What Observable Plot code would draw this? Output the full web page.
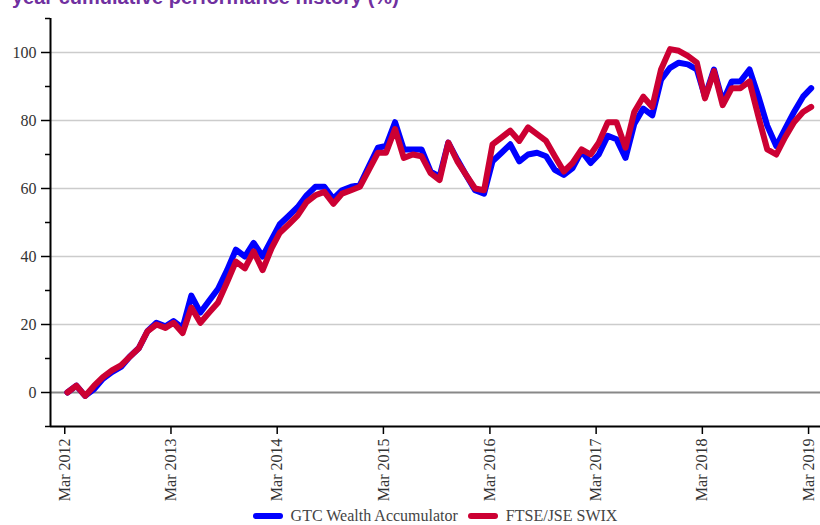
<!DOCTYPE html>
<html><head><meta charset="utf-8">
<script src="https://cdn.jsdelivr.net/npm/d3@7"></script>
<script src="https://cdn.jsdelivr.net/npm/@observablehq/plot@0.6"></script>
<style>
html,body{margin:0;padding:0;background:#fff;}
body{width:820px;height:525px;overflow:hidden;position:relative;font-family:"Liberation Serif",serif;}
#title{position:absolute;left:12px;top:-13px;font:bold 20px "Liberation Sans",Arial,sans-serif;color:#7030a0;white-space:nowrap;line-height:20px;z-index:2;}
#chart{position:absolute;left:0;top:0;}
#legend{position:absolute;top:507px;left:50px;width:770px;height:18px;display:flex;justify-content:center;align-items:center;font:16px "Liberation Serif",serif;color:#444;}
.item{display:flex;align-items:center;margin:0 5px;}
.sw{display:inline-block;width:30px;height:6px;border-radius:3px;margin-right:8px;}
</style>
</head><body>
<div id="title">year cumulative performance history (%)</div>
<div id="chart"></div>
<div id="legend"></div>
<script>
const seriesNames = ["GTC Wealth Accumulator", "FTSE/JSE SWIX"];
const seriesColors = ["#0000ff", "#cc0033"];
const startYear = 2012, startMonth = 2; // March 2012, monthly
const gtc = [0,2,-1,1,4,6,7.5,10.5,13,18,20.5,19.5,21,19,28.5,23.5,27,30.5,36,42,40,44,40,45,49.5,52,54.5,58,60.5,60.5,57,59.5,60.5,61,66.5,72,72.5,79.5,71.5,71.5,71.5,65,63.5,73.5,68.5,64,59.5,58.5,68,70.5,73,68,70,70.5,69.5,65.5,64,66,71,67.5,70,75.5,74.5,69,79,83.5,81.5,92,95.5,97,96.5,95,87,95,85.5,91.5,91.5,95,87,78.5,72.5,77.5,82.5,87,89.5];
const swix = [0,2,-1,2,4.5,6.5,8,10.5,13,18,20,19,20.5,17.5,25,20.5,23.5,26.5,32.5,38.5,36.5,41.5,36,42.5,47,49.5,52,56,58,59,55.5,58.5,59.5,60.5,65.5,70.5,70.5,77.5,69,70,69.5,64.5,62.5,73.5,68,64,60,59.5,73,75,77,74,78,76,74,69.5,65,67.5,71.5,70,73.5,79.5,79.5,72,82.5,87,84,95,101,100.5,99,97,86.5,94.5,84.5,89.5,89.5,91.5,81,71.5,70,75,79.5,82.5,84];
const yMajor = [0,20,40,60,80,100];
const yMinor = [-10,10,30,50,70,90,110];
const xTickYears = [2012,2013,2014,2015,2016,2017,2018,2019];

const dateOf = i => d3.utcMonth.offset(new Date(Date.UTC(startYear, startMonth, 10)), i);
const rows = [];
[gtc, swix].forEach((arr, s) => arr.forEach((v, i) => rows.push({date: dateOf(i), value: v, series: seriesNames[s]})));
const xTicks = xTickYears.map(y => new Date(Date.UTC(y, 2, 1)));
const xDomain = [new Date(Date.UTC(2012,0,12)), new Date(Date.UTC(2019,3,11))];

const chart = Plot.plot({
  width: 820, height: 505,
  marginLeft: 50, marginRight: 0, marginTop: 18, marginBottom: 79,
  style: {fontFamily: "Liberation Serif, serif", fontSize: "16px", color: "#333", background: "transparent"},
  x: {type: "utc", domain: xDomain},
  y: {domain: [-10, 110]},
  color: {domain: seriesNames, range: seriesColors},
  marks: [
    Plot.ruleY(yMajor.filter(d => d !== 0), {stroke: "#cccccc", strokeWidth: 1.5}),
    Plot.ruleY([0], {stroke: "#888888", strokeWidth: 2}),
    Plot.axisY({ticks: yMajor, tickSize: 9, tickPadding: 5, label: null, stroke: "#000", strokeWidth: 1.5}),
    Plot.axisY({ticks: yMinor, tickSize: 5, tickFormat: () => "", label: null, stroke: "#000", strokeWidth: 1.5}),
    Plot.axisX({ticks: xTicks, tickFormat: d3.utcFormat("%b %Y"), tickRotate: -90, tickSize: 8, tickPadding: 4, label: null, stroke: "#000", strokeWidth: 1.5}),
    Plot.line(rows, {x: "date", y: "value", z: "series", stroke: "series", strokeWidth: 6, strokeLinejoin: "round", strokeLinecap: "round"}),
    Plot.ruleX([xDomain[0]], {stroke: "#000", strokeWidth: 2}),
    Plot.ruleY([-10], {stroke: "#000", strokeWidth: 2})
  ]
});
document.getElementById("chart").appendChild(chart);

const legend = document.getElementById("legend");
seriesNames.forEach((n, i) => {
  const it = document.createElement("span"); it.className = "item";
  const sw = document.createElement("span"); sw.className = "sw"; sw.style.background = seriesColors[i];
  const tx = document.createElement("span"); tx.textContent = n;
  it.appendChild(sw); it.appendChild(tx); legend.appendChild(it);
});
</script>
</body></html>
